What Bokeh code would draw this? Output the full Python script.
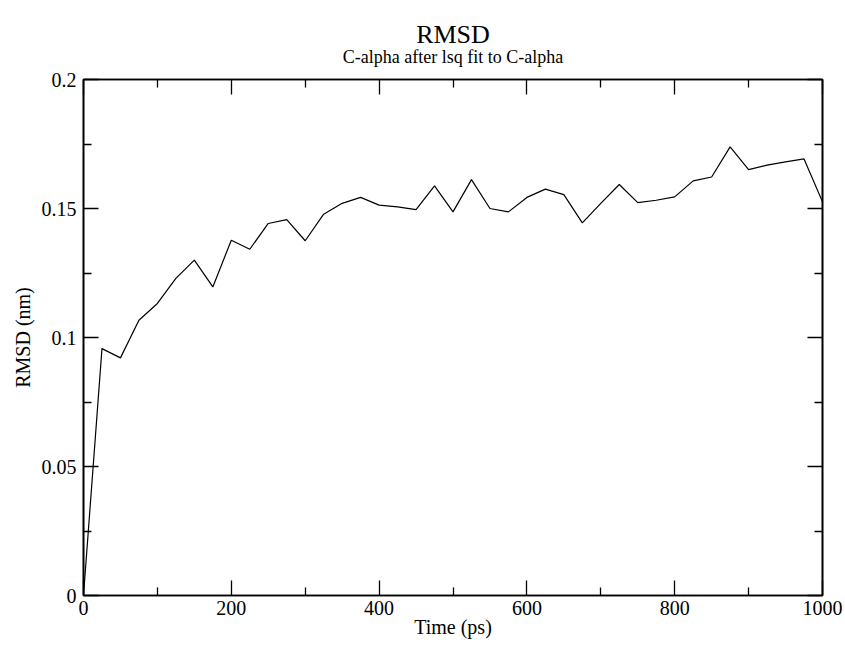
from bokeh.plotting import figure
from bokeh.models import (LinearAxis, FixedTicker, CustomJSTickFormatter, Title, Range1d)
from bokeh.embed import file_html
from bokeh.resources import INLINE

# ---- data ----
time_ps = [0, 25, 50, 75, 100, 125, 150, 175, 200, 225, 250, 275, 300, 325, 350,
           375, 400, 425, 450, 475, 500, 525, 550, 575, 600, 625, 650, 675, 700,
           725, 750, 775, 800, 825, 850, 875, 900, 925, 950, 975, 1000]
rmsd_nm = [0.0, 0.0957, 0.0921, 0.1067, 0.1132, 0.1229, 0.1300, 0.1196, 0.1377,
           0.1342, 0.1442, 0.1457, 0.1375, 0.1478, 0.1520, 0.1543, 0.1513, 0.1506,
           0.1496, 0.1588, 0.1487, 0.1612, 0.1500, 0.1487, 0.1543, 0.1575, 0.1554,
           0.1444, 0.1520, 0.1593, 0.1523, 0.1532, 0.1545, 0.1607, 0.1622, 0.1739,
           0.1651, 0.1668, 0.1681, 0.1692, 0.1526]
x_major = [0, 200, 400, 600, 800, 1000]
x_minor = [100, 300, 500, 700, 900]
y_major = [0, 0.05, 0.1, 0.15, 0.2]
y_minor = [0.025, 0.075, 0.125, 0.175]

FONT = "Liberation Serif"

p = figure(width=843, height=642, output_backend="svg", toolbar_location=None,
           x_range=Range1d(0, 1000), y_range=Range1d(0, 0.2),
           x_axis_label="Time (ps)", y_axis_label="RMSD (nm)",
           min_border_left=83, min_border_right=21, min_border_top=79,
           min_border_bottom=47, title=None)

p.line(time_ps, rmsd_nm, line_color="black", line_width=1.2)

p.xgrid.visible = False
p.ygrid.visible = False
p.outline_line_color = "black"
p.outline_line_width = 1.6
p.background_fill_color = "white"
p.border_fill_color = "white"

fmt = CustomJSTickFormatter(code="return String(Number(tick.toFixed(4)));")

def style_axis(ax, ticks, minors, show_labels):
    ax.ticker = FixedTicker(ticks=ticks, minor_ticks=minors)
    ax.major_tick_in = 15
    ax.major_tick_out = 0
    ax.minor_tick_in = 8
    ax.minor_tick_out = 0
    ax.major_tick_line_color = "black"
    ax.minor_tick_line_color = "black"
    ax.major_tick_line_width = 1.3
    ax.minor_tick_line_width = 1.3
    ax.axis_line_color = "black"
    ax.axis_line_width = 1.6
    ax.formatter = fmt
    if show_labels:
        ax.major_label_text_font = FONT
        ax.major_label_text_font_size = "20px"
        ax.major_label_text_color = "black"
        ax.axis_label_text_font = FONT
        ax.axis_label_text_font_size = "20px"
        ax.axis_label_text_font_style = "normal"
        ax.axis_label_text_color = "black"
    else:
        ax.major_label_text_font_size = "1px"
        ax.major_label_text_color = None
        ax.major_label_standoff = 0

xa = p.xaxis[0]
style_axis(xa, x_major, x_minor, True)
xa.major_label_standoff = 5
xa.axis_label_standoff = -2

ya = p.yaxis[0]
style_axis(ya, y_major, y_minor, True)
ya.major_label_standoff = 7
ya.axis_label_standoff = 5

top = LinearAxis()
style_axis(top, x_major, x_minor, False)
p.add_layout(top, "above")
right = LinearAxis()
style_axis(right, y_major, y_minor, False)
p.add_layout(right, "right")

sub = Title(text="C-alpha after lsq fit to C-alpha", align="center",
            text_font=FONT, text_font_size="18px", text_font_style="normal",
            text_color="black", standoff=26)
p.add_layout(sub, "above")
main = Title(text="RMSD", align="center", text_font=FONT, text_font_size="26px",
             text_font_style="normal", text_color="black", standoff=-35)
p.add_layout(main, "above")

open("out.html", "w").write(file_html(p, INLINE))
